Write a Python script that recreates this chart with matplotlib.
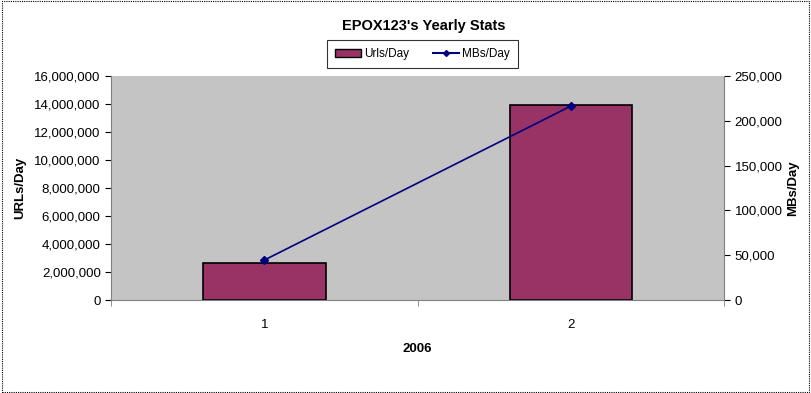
import matplotlib.pyplot as plt
from matplotlib.patches import Rectangle
from matplotlib.lines import Line2D
from matplotlib.ticker import FuncFormatter

plt.rcParams['font.family'] = ['Liberation Sans', 'DejaVu Sans']

categories = ['1', '2']
urls_per_day = [2640000, 13930000]
mbs_per_day = [44600, 216500]

fig = plt.figure(figsize=(8.11, 3.93), dpi=100)
fig.patch.set_facecolor('white')
fig.patches.append(Rectangle((0.002, 0.003), 0.995, 0.994, transform=fig.transFigure,
                             fill=False, edgecolor='black', linestyle=(0, (1, 1)), linewidth=0.8))

ax = fig.add_axes([0.137, 0.2366, 0.756, 0.57])
ax.set_facecolor('#c4c4c4')
x = list(range(len(categories)))
ax.bar(x, urls_per_day, width=0.40, color='#993366', edgecolor='black', linewidth=1.2, zorder=2)
ax.set_xlim(-0.5, 1.5)
ax.set_ylim(0, 16000000)
ax.set_yticks(range(0, 16000001, 2000000))
ax.yaxis.set_major_formatter(FuncFormatter(lambda v, p: '{:,}'.format(int(v))))
ax.set_xticks(x)
ax.set_xticklabels(categories)
ax.set_xticks([-0.5, 0.5, 1.5], minor=True)
for s in ['top', 'right']:
    ax.spines[s].set_visible(False)
ax.spines['left'].set_color('#808080')
ax.spines['bottom'].set_color('#808080')
ax.tick_params(axis='both', labelsize=9.5, colors='black', length=4, direction='out')
ax.tick_params(axis='x', which='major', length=0, pad=14)
ax.tick_params(axis='x', which='minor', length=4, color='#808080')
ax.set_xlabel('2006', fontsize=9.5, fontweight='bold', labelpad=8)
ax.set_ylabel('URLs/Day', fontsize=9.5, fontweight='bold', labelpad=6)

ax2 = ax.twinx()
ax2.plot(x, mbs_per_day, color='#000080', marker='D', markersize=4, linewidth=1.2, zorder=3)
ax2.set_ylim(0, 250000)
ax2.set_yticks(range(0, 250001, 50000))
ax2.yaxis.set_major_formatter(FuncFormatter(lambda v, p: '{:,}'.format(int(v))))
for s in ['top', 'left', 'bottom']:
    ax2.spines[s].set_visible(False)
ax2.spines['right'].set_color('#808080')
ax2.tick_params(axis='y', labelsize=9.5, colors='black', length=4)
ax2.set_ylabel('MBs/Day', fontsize=9.5, fontweight='bold', labelpad=3)

fig.text(0.523, 0.935, "EPOX123's Yearly Stats", ha='center', va='center', fontsize=10.5, fontweight='bold')

handles = [Rectangle((0, 0), 1, 1, facecolor='#993366', edgecolor='black'),
           Line2D([0], [0], color='#000080', marker='D', markersize=3)]
leg = fig.legend(handles, ['Urls/Day', 'MBs/Day'], loc='center', bbox_to_anchor=(0.521, 0.862),
                 ncol=2, fontsize=8.5, frameon=True, fancybox=False, edgecolor='black',
                 handlelength=2.2, columnspacing=2.0, borderpad=0.7, borderaxespad=0,
                 handletextpad=0.3)
leg.get_frame().set_linewidth(0.8)

fig.savefig('out.png', dpi=100)
